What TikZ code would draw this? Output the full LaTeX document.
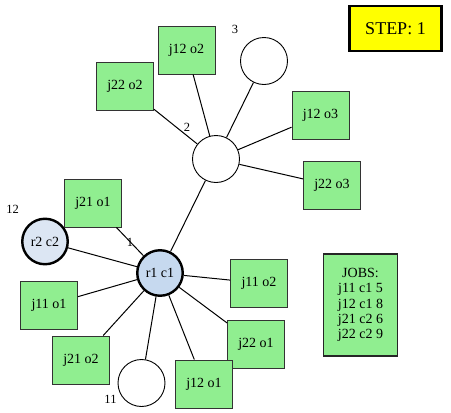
\documentclass[tikz,border=0pt]{standalone}
\usepackage{fontspec}
\setmainfont{Liberation Serif}
\definecolor{opgreen}{HTML}{90EE90}
\definecolor{resblue}{HTML}{C6D9EF}
\definecolor{resblue2}{HTML}{DCE6F3}
\definecolor{stepyellow}{HTML}{FFFF00}
\begin{document}
\begin{tikzpicture}[x=1pt,y=-1pt,
  op/.style={rectangle, draw=black!80, fill=opgreen, line width=0.9pt,
    minimum width=57pt, minimum height=48pt, inner sep=0pt,
    font=\fontsize{14}{16}\selectfont},
  res/.style={circle, draw=black, line width=2.4pt, minimum size=45.5pt,
    inner sep=0pt, font=\fontsize{14}{16}\selectfont},
  slot/.style={circle, draw=black, line width=0.9pt, fill=white,
    minimum size=47pt, inner sep=0pt},
  num/.style={inner sep=0pt, font=\fontsize{12.5}{14}\selectfont},
  link/.style={line width=1pt, draw=black}]
\useasboundingbox (0,0) rectangle (451,413);

% machines / slots
\node[res, fill=resblue]  (r1) at (160,273) {r1 c1};
\node[res, fill=resblue2] (r2) at (45,241.5) {r2 c2};
\node[slot] (s2)  at (216,159) {};
\node[slot] (s3)  at (264,61)  {};
\node[slot] (s11) at (141.5,383) {};

% operations
\node[op] (j22o2) at (125,86)  {j22 o2};
\node[op] (j12o2) at (186.5,50) {j12 o2};
\node[op] (j12o3) at (320.5,115) {j12 o3};
\node[op] (j22o3) at (332,185.5) {j22 o3};
\node[op] (j21o1) at (93,203)  {j21 o1};
\node[op] (j11o1) at (49,305)  {j11 o1};
\node[op] (j11o2) at (259,283) {j11 o2};
\node[op] (j21o2) at (81,360)  {j21 o2};
\node[op] (j22o1) at (256,344.5) {j22 o1};
\node[op] (j12o1) at (204,384) {j12 o1};

% slot numbers
\node[num] (n12) at (12.5,209)  {12};
\node[num] (n1)  at (130,242) {1};
\node[num] (n2)  at (187,127) {2};
\node[num] (n3)  at (235,29)  {3};
\node[num] (n11) at (110.5,399) {11};

% connectors
\foreach \t in {j21o1, r2, j11o1, j21o2, s11, j12o1, j22o1, j11o2, s2}
  \draw[link] (r1) -- (\t);
\foreach \t in {j22o2, j12o2, s3, j12o3, j22o3}
  \draw[link] (s2) -- (\t);

% job list
\node[rectangle, draw=black!85, fill=opgreen, line width=1.2pt,
  minimum width=74pt, minimum height=102pt, inner sep=0pt, align=center,
  font=\fontsize{14}{15.3}\selectfont] (jobs) at (360.5,305)
  {JOBS:\\j11 c1 5\\j12 c1 8\\j21 c2 6\\j22 c2 9};

% step counter
\node[rectangle, draw=black, fill=stepyellow, line width=2.6pt,
  minimum width=92pt, minimum height=45pt, inner sep=0pt,
  font=\fontsize{18}{20}\selectfont] (step) at (395.5,28.5) {STEP: 1};
\end{tikzpicture}
\end{document}
